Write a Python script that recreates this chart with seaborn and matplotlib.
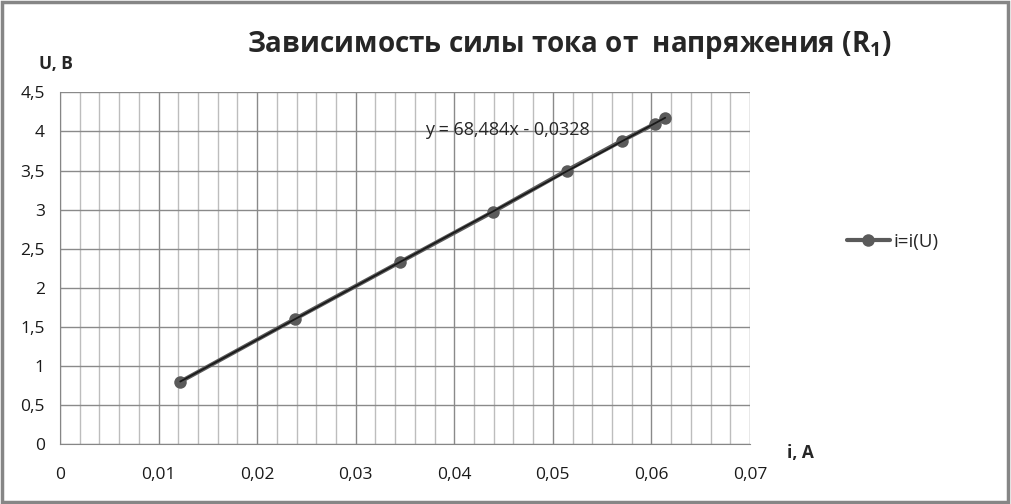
import numpy as np
import pandas as pd
import matplotlib
matplotlib.use("Agg")
import matplotlib.pyplot as plt
import matplotlib.ticker as mticker
from matplotlib.patches import Rectangle
import seaborn as sns

current_a = [0.0122, 0.0238, 0.0345, 0.0439, 0.0514, 0.0570, 0.0604, 0.0614]
voltage_v = [0.80, 1.60, 2.33, 2.97, 3.50, 3.88, 4.10, 4.17]
series_name = "i=i(U)"
trend_label = "y = 68,484x - 0,0328"
title = "Зависимость силы тока от  напряжения ($\\mathbf{R_1}$)"

df = pd.DataFrame({"i": current_a, "U": voltage_v})

sns.set_style("white")
plt.rcParams["font.family"] = ["Open Sans", "DejaVu Sans"]
plt.rcParams["mathtext.fontset"] = "custom"
plt.rcParams["mathtext.bf"] = "Open Sans:bold"
plt.rcParams["mathtext.rm"] = "Open Sans"

fig = plt.figure(figsize=(10.11, 5.04), dpi=100)
ax = fig.add_axes([60 / 1011, 1 - 444.3 / 504, 690 / 1011, 352 / 504])

# gridlines: major darker, minor lighter
ax.set_xlim(0, 0.07)
ax.set_ylim(0, 4.5)
ax.xaxis.set_major_locator(mticker.MultipleLocator(0.01))
ax.xaxis.set_minor_locator(mticker.MultipleLocator(0.002))
ax.yaxis.set_major_locator(mticker.MultipleLocator(0.5))
ax.grid(which="major", color="#8a8a8a", linewidth=1)
ax.grid(which="minor", axis="x", color="#bdbdbd", linewidth=1)
ax.set_axisbelow(True)

comma = mticker.FuncFormatter(lambda v, p: ("%g" % round(v, 4)).replace(".", ","))
ax.xaxis.set_major_formatter(comma)
ax.yaxis.set_major_formatter(comma)

sns.lineplot(data=df, x="i", y="U", marker="o", markersize=9, color="#5a5a5a",
             linewidth=3, markeredgewidth=0, label=series_name, ax=ax)
sns.regplot(data=df, x="i", y="U", scatter=False, ci=None, truncate=True,
            color="#1a1a1a", line_kws={"linewidth": 1.3}, ax=ax)

for s in ["top", "right"]:
    ax.spines[s].set_visible(False)
for s in ["left", "bottom"]:
    ax.spines[s].set_color("#868686")
ax.tick_params(axis="both", which="both", direction="out", color="#868686",
               labelsize=12.5, labelcolor="#1a1a1a")
ax.tick_params(axis="x", which="major", length=6, pad=10)
ax.tick_params(axis="x", which="minor", length=4)
ax.tick_params(axis="y", which="major", length=6, pad=5)
ax.set_xlabel("")
ax.set_ylabel("")

ax.text(0.037, 4.02, trend_label, fontsize=13, va="center", ha="left")

fig.text(39 / 1011, 1 - 64 / 504, "U, B", fontsize=12.5, fontweight="bold", va="center")
fig.text(787 / 1011, 1 - 453 / 504, "i, A", fontsize=12.5, fontweight="bold", va="center")
fig.text(569 / 1011, 1 - 45 / 504, title, fontsize=20, fontweight="bold",
         ha="center", va="center")

ax.legend(loc="center left", bbox_to_anchor=(779 / 690, (444.3 - 242) / 352),
          frameon=False, fontsize=13.5, handlelength=2.3, handletextpad=0.2,
          borderaxespad=0)

fig.patches.append(Rectangle((0.002, 0.004), 0.995, 0.992, transform=fig.transFigure,
                             fill=False, edgecolor="#868686", linewidth=2.5))

fig.savefig("out.png", dpi=100)
